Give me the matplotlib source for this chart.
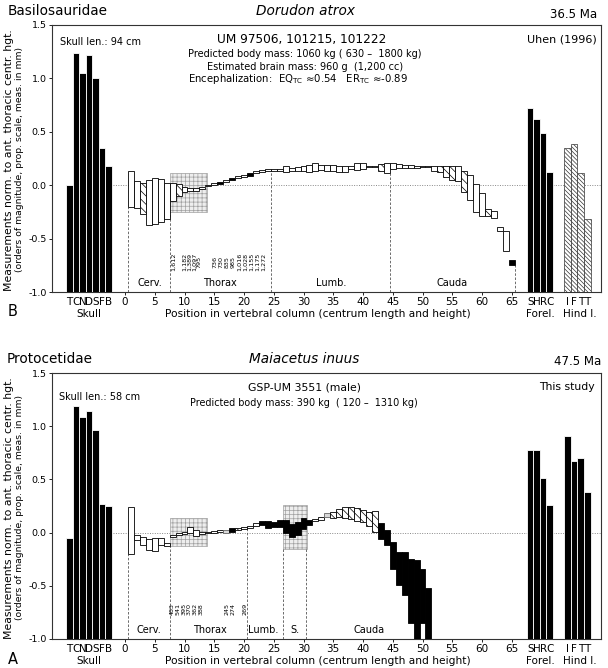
import numpy as np
import matplotlib
matplotlib.use('Agg')
import matplotlib.pyplot as plt
from matplotlib.patches import Rectangle
import matplotlib.transforms as mtransforms

plt.rcParams['font.family'] = ['DejaVu Sans']
plt.rcParams['hatch.linewidth'] = 0.5

# ---- data: Dorudon atrox (top, B) ----
skull_labels = ['T', 'C', 'N', 'D', 'S', 'F', 'B']
fore_labels = ['S', 'H', 'R', 'C']
hind_labels = ['I', 'F', 'T', 'T']

dor_skull = [0.0, 1.24, 1.05, 1.22, 1.00, 0.35, 0.18]
dor_fore = [0.72, 0.62, 0.49, 0.12]
dor_hind = [0.35, 0.39, 0.11, -0.32]
dor_lo = [-0.20, -0.21, -0.27, -0.37, -0.36, -0.34, -0.32,
          -0.15, -0.10, -0.06, -0.05, -0.05, -0.04, -0.01,
          0.00, 0.01, 0.03, 0.05, 0.07, 0.08, 0.09, 0.11, 0.12, 0.13,
          0.13, 0.13, 0.12, 0.13, 0.13, 0.13, 0.12, 0.13, 0.14, 0.13,
          0.13, 0.12, 0.12, 0.15, 0.14, 0.15, 0.17, 0.17, 0.13, 0.11,
          0.15, 0.16, 0.16, 0.16, 0.16, 0.17, 0.17, 0.13, 0.12, 0.08,
          0.05, 0.04, -0.06, -0.14, -0.25, -0.29, -0.29, -0.31, -0.43, -0.62, -0.75]
dor_hi = [0.13, 0.04, 0.02, 0.05, 0.07, 0.06, 0.02,
          0.02, 0.01, -0.02, -0.03, -0.03, -0.02, 0.00,
          0.02, 0.03, 0.05, 0.07, 0.09, 0.10, 0.11, 0.13, 0.14, 0.15,
          0.15, 0.15, 0.18, 0.16, 0.17, 0.18, 0.19, 0.21, 0.19, 0.19,
          0.19, 0.18, 0.18, 0.18, 0.21, 0.21, 0.18, 0.18, 0.20, 0.21,
          0.21, 0.20, 0.19, 0.19, 0.18, 0.18, 0.18, 0.18, 0.18, 0.18,
          0.18, 0.18, 0.13, 0.10, 0.01, -0.07, -0.22, -0.24, -0.39, -0.43, -0.70]
dor_style = "wwhwwww" + "whwwwww" + "wkwkwwkwww" + "w" * 18 + "hw" + "wwwwwwwwhhhwhwwwhwwwk"
dor_stipple = [(7.6, 13.8, -0.25, 0.11)]
dor_bounds = [0.5, 7.5, 24.5, 44.5, 65.5]
dor_bound_top = [-0.20, -0.25, 0.13, 0.11, -0.75]
dor_regions = ['Cerv.', 'Thorax', 'Lumb.', 'Cauda']
dor_region_x = [4.1, 16.0, 34.6, 55.0]
dor_nums = ['1,612', '1,182', '1,389', '1,097', '795',
            '736', '730', '835', '985', '1,016', '1,028', '1,155', '1,175', '1,272']
dor_num_x = [8.2, 10.0, 10.8, 11.6, 12.4,
             15.2, 16.2, 17.2, 18.2, 19.2, 20.2, 21.2, 22.2, 23.2]

# ---- data: Maiacetus inuus (bottom, A) ----
mai_skull = [-0.05, 1.19, 1.09, 1.14, 0.96, 0.27, 0.25]
mai_fore = [0.78, 0.78, 0.51, 0.26]
mai_hind = [0.91, 0.67, 0.70, 0.38]
mai_lo = [-0.20, -0.07, -0.12, -0.16, -0.17, -0.12, -0.13,
          -0.04, -0.02, -0.01, 0.00, -0.03, -0.01, 0.00, 0.00, 0.005, 0.00,
          0.01, 0.02, 0.03,
          0.04, 0.06, 0.07, 0.04, 0.05, 0.05,
          0.00, -0.04, -0.02, 0.03, 0.07,
          0.11, 0.12, 0.15, 0.14, 0.15, 0.14, 0.13, 0.11, 0.10, 0.06, 0.01,
          -0.06, -0.12, -0.34, -0.49, -0.59, -0.85, -1.00, -0.85, -1.00]
mai_hi = [0.24, -0.02, -0.04, -0.06, -0.05, -0.05, -0.10,
          -0.02, 0.00, 0.01, 0.05, 0.02, 0.01, 0.01, 0.015, 0.02, 0.02,
          0.04, 0.04, 0.05,
          0.06, 0.09, 0.11, 0.11, 0.10, 0.12,
          0.12, 0.08, 0.10, 0.14, 0.12,
          0.13, 0.15, 0.18, 0.19, 0.22, 0.24, 0.24, 0.23, 0.21, 0.19, 0.20,
          0.09, 0.02, -0.09, -0.18, -0.18, -0.25, -0.26, -0.34, -0.52]
mai_style = "wwwwwww" + "wwwwwwwwwg" + "khw" + "wwkkkk" + "kkkkk" + "wwg" + "h" * 8 + "k" * 9
mai_stipple = [(7.6, 13.8, -0.13, 0.14), (26.6, 30.6, -0.15, 0.26)]
mai_bounds = [0.5, 7.5, 20.5, 26.5, 30.5]
mai_bound_top = [-0.20, -0.13, 0.04, -0.15, -0.15]
mai_regions = ['Cerv.', 'Thorax', 'Lumb.', 'S.', 'Cauda']
mai_region_x = [4.0, 14.2, 23.2, 28.6, 41.0]
mai_nums = ['483', '541', '395', '370', '362', '388', '245', '274', '269']
mai_num_x = [8.0, 8.9, 9.9, 10.8, 11.8, 12.8, 17.2, 18.1, 20.1]

xticks = list(range(0, 70, 5))
yticks = [-1.0, -0.5, 0.0, 0.5, 1.0, 1.5]
ytick_labels = ['-1.0', '-0.5', '0.0', '0.5', '1.0', '1.5']

W, H = 608, 668
fig = plt.figure(figsize=(W / 100, H / 100), dpi=100)


def px(x, y):
    return x / W, 1 - y / H


skull_x = -9.37 + 1.106 * np.arange(7)
fore_x = 68.1 + 1.09 * np.arange(4)
hind_x = 74.35 + 1.13 * np.arange(4)


def draw_panel(ax, skull, fore, hind, hind_hatch, lo, hi, style, stipple,
               bounds, btop, regions, region_x, nums, num_x):
    ax.set_xlim(-12.27, 80.0)
    ax.set_ylim(-1.0, 1.5)
    ax.axhline(0, xmin=(-2 + 12.27) / 92.27, color='#888888', lw=0.7, ls=(0, (1, 1.5)), zorder=1)
    for (x0, x1, y0, y1) in stipple:
        ax.add_patch(Rectangle((x0, y0), x1 - x0, y1 - y0, facecolor='#eeeeee',
                               edgecolor='#a0a0a0', hatch='++++', lw=0.5, zorder=1.5))
    for b, t in zip(bounds, btop):
        ax.plot([b, b], [-1.0, t], color='#555555', lw=0.6, ls=(0, (3, 2)), zorder=2)
    # vertebrae
    for i, (a, b, s) in enumerate(zip(lo, hi, style)):
        p = i + 1
        kw = dict(edgecolor='black', lw=0.6, zorder=3)
        if s == 'w':
            kw['facecolor'] = 'white'
        elif s == 'h':
            kw['facecolor'] = 'white'
            kw['hatch'] = '\\' * 4
        elif s == 'k':
            kw['facecolor'] = 'black'
        else:
            kw['facecolor'] = '#d8d8d8'
            kw['edgecolor'] = '#666666'
        ax.add_patch(Rectangle((p - 0.5, a), 1.0, max(b - a, 0.008), **kw))
    # skull and limb bars
    ax.bar(skull_x, np.array(skull) + 1.0, bottom=-1.0, width=1.106,
           color='black', edgecolor='white', lw=0.6, zorder=3)
    ax.bar(fore_x, np.array(fore) + 1.0, bottom=-1.0, width=1.09,
           color='black', edgecolor='white', lw=0.6, zorder=3)
    if hind_hatch:
        ax.bar(hind_x, np.array(hind) + 1.0, bottom=-1.0, width=1.13,
               color='white', edgecolor='#333333', hatch='\\' * 8, lw=0.5, zorder=3)
    else:
        ax.bar(hind_x, np.array(hind) + 1.0, bottom=-1.0, width=1.13,
               color='black', edgecolor='white', lw=0.6, zorder=3)
    for r, x in zip(regions, region_x):
        ax.text(x, -0.94, r, fontsize=7, ha='center', va='baseline', zorder=4)
    for n, x in zip(nums, num_x):
        ax.text(x, -0.72, n, fontsize=4.6, rotation=90, ha='center', va='center', zorder=4)
    # axes styling
    ax.set_xticks(xticks)
    ax.set_xticklabels([str(t) for t in xticks])
    ax.set_yticks(yticks)
    ax.set_yticklabels(ytick_labels)
    ax.tick_params(axis='x', labelsize=7.5, length=2, width=0.6, pad=1.3)
    ax.tick_params(axis='y', labelsize=6.8, length=2.5, width=0.6, pad=1.5)
    for sp in ax.spines.values():
        sp.set_linewidth(0.8)
        sp.set_color('#333333')
    trans = mtransforms.blended_transform_factory(ax.transData, ax.transAxes)
    for labs, xs in ((skull_labels, skull_x), (fore_labels, fore_x), (hind_labels, hind_x)):
        for l, x in zip(labs, xs):
            ax.annotate(l, xy=(x, 0), xycoords=trans, xytext=(0, -3.3),
                        textcoords='offset points', ha='center', va='top', fontsize=7.5)
    for l, x in (('Skull', -6.0), ('Forel.', 69.8), ('Hind l.', 76.4)):
        ax.annotate(l, xy=(x, 0), xycoords=trans, xytext=(0, -18),
                    textcoords='offset points', ha='center', va='baseline', fontsize=7.5)
    ax.annotate('Position in vertebral column (centrum length and height)', xy=(32.4, 0),
                xycoords=trans, xytext=(0, -18), textcoords='offset points',
                ha='center', va='baseline', fontsize=7.7)


ylab1 = 'Measurements norm. to ant. thoracic centr. hgt.'
ylab2 = '(orders of magnitude, prop. scale, meas. in mm)'

# top panel
ax1 = fig.add_axes([52 / W, 1 - 292 / H, 549 / W, 267 / H])
draw_panel(ax1, dor_skull, dor_fore, dor_hind, True, dor_lo, dor_hi, dor_style, dor_stipple,
           dor_bounds, dor_bound_top, dor_regions, dor_region_x, dor_nums, dor_num_x)
fig.text(*px(8, 15), 'Basilosauridae', fontsize=9.8, va='baseline')
fig.text(*px(305, 15), 'Dorudon atrox', fontsize=9.8, style='italic', ha='center', va='baseline')
fig.text(*px(597, 18), '36.5 Ma', fontsize=8.5, ha='right', va='baseline')
fig.text(*px(60, 45), 'Skull len.: 94 cm', fontsize=7, va='baseline')
fig.text(*px(302, 43), 'UM 97506, 101215, 101222', fontsize=8.7, ha='center', va='baseline')
fig.text(*px(305, 57), 'Predicted body mass: 1060 kg ( 630 –  1800 kg)', fontsize=7.0,
         ha='center', va='baseline')
fig.text(*px(305, 70), 'Estimated brain mass: 960 g  (1,200 cc)', fontsize=7.0,
         ha='center', va='baseline')
fig.text(*px(298, 82), r'Encephalization:  EQ$_{\rm TC}$ ≈0.54   ER$_{\rm TC}$ ≈-0.89', fontsize=7.3,
         ha='center', va='baseline')
fig.text(*px(597, 43), 'Uhen (1996)', fontsize=8, ha='right', va='baseline')
fig.text(*px(8, 316), 'B', fontsize=10.5, va='baseline')
fig.text(*px(9, 160), ylab1, fontsize=7.8, rotation=90, ha='center', va='center')
fig.text(*px(20, 160), ylab2, fontsize=6.7, rotation=90, ha='center', va='center')

# bottom panel
ax2 = fig.add_axes([52 / W, 1 - 639 / H, 549 / W, 266 / H])
draw_panel(ax2, mai_skull, mai_fore, mai_hind, False, mai_lo, mai_hi, mai_style, mai_stipple,
           mai_bounds, mai_bound_top, mai_regions, mai_region_x, mai_nums, mai_num_x)
fig.text(*px(7, 363), 'Protocetidae', fontsize=9.8, va='baseline')
fig.text(*px(304, 363), 'Maiacetus inuus', fontsize=9.8, style='italic', ha='center', va='baseline')
fig.text(*px(601, 365), '47.5 Ma', fontsize=8.5, ha='right', va='baseline')
fig.text(*px(59, 400), 'Skull len.: 58 cm', fontsize=7, va='baseline')
fig.text(*px(304, 390), 'GSP-UM 3551 (male)', fontsize=7.8, ha='center', va='baseline')
fig.text(*px(304, 406), 'Predicted body mass: 390 kg  ( 120 –  1310 kg)', fontsize=6.9,
         ha='center', va='baseline')
fig.text(*px(595, 390), 'This study', fontsize=7.8, ha='right', va='baseline')
fig.text(*px(8, 664), 'A', fontsize=10.5, va='baseline')
fig.text(*px(9, 508), ylab1, fontsize=7.8, rotation=90, ha='center', va='center')
fig.text(*px(20, 508), ylab2, fontsize=6.7, rotation=90, ha='center', va='center')

fig.savefig('out.png', dpi=100)
